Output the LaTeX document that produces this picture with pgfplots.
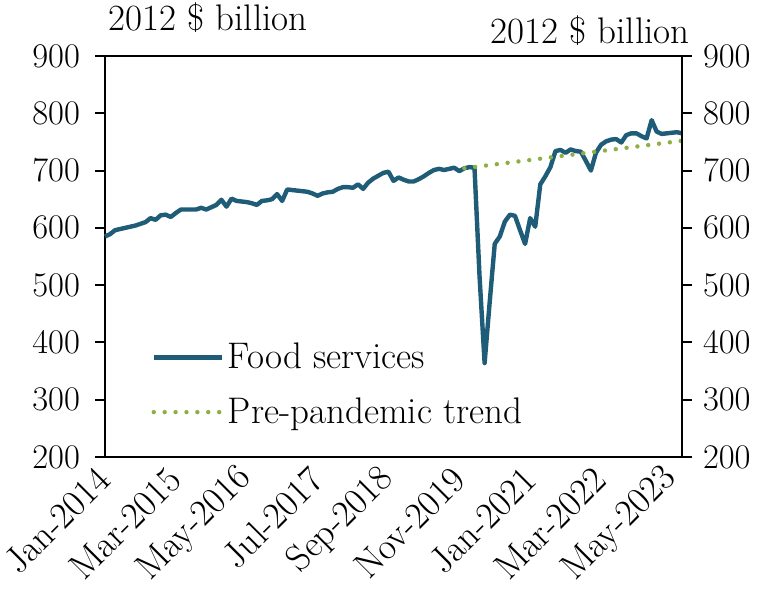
\documentclass[border=0pt]{standalone}
\usepackage{pgfplots}
\pgfplotsset{compat=1.18}
\definecolor{teal1}{HTML}{1F5C78}
\definecolor{green1}{HTML}{8CB043}
\newcommand{\fs}{\fontsize{18.5}{22}\selectfont}
\pgfplotstableread{
i v
0 585
1 589
2 596
3 598
4 600
5 602
6 604
7 607
8 610
9 617
10 614
11 622
12 623
13 619
14 626
15 632
16 632
17 632
18 632
19 635
20 632
21 636
22 640
23 649
24 637
25 651
26 647
27 646
28 645
29 643
30 640
31 647
32 648
33 650
34 659
35 647
36 667
37 666
38 665
39 664
40 663
41 660
42 656
43 660
44 662
45 663
46 668
47 671
48 671
49 670
50 676
51 668
52 679
53 686
54 691
55 696
56 698
57 682
58 688
59 684
60 681
61 681
62 685
63 690
64 696
65 701
66 703
67 701
68 703
69 705
70 699
71 704
72 706
73 705
74 515
75 364
76 470
77 572
78 585
79 611
80 623
81 621
82 596
83 572
84 617
85 602
86 676
87 690
88 706
89 734
90 736
91 731
92 737
93 734
94 733
95 717
96 700
97 731
98 745
99 751
100 754
101 755
102 749
103 762
104 765
105 765
106 760
107 756
108 788
109 768
110 764
111 765
112 766
113 767
114 765
}\food
\pgfplotstableread{
i v
71 704
114 752
}\trend
\begin{document}
\begin{tikzpicture}
\pgfplotsset{every axis/.append style={
  scale only axis, width=288.5pt, height=200.5pt,
  xmin=0, xmax=114, ymin=200, ymax=900,
  tick align=outside, major tick length=5pt,
  axis line style={line width=1pt},
  every tick/.style={line width=1pt,black},
  tick label style={font=\fs},
  ytick={200,300,...,900},
}}
\begin{axis}[name=ax, clip=false, ytick pos=left,
  xtick={0,14,...,112},
  xticklabels={Jan-2014,Mar-2015,May-2016,Jul-2017,Sep-2018,Nov-2019,Jan-2021,Mar-2022,May-2023},
  xtick style={draw=none},
  xticklabel style={rotate=45, anchor=east, yshift=-2pt, xshift=1pt},
  yticklabel style={xshift=-4pt},
  legend style={at={(rel axis cs:0.08,0.295)}, anchor=north west, draw=none, fill=none,
    font=\fs, row sep=9pt, inner sep=0pt, cells={anchor=west}},
  legend image code/.code={\draw[#1] (0pt,0pt) -- (34pt,0pt);},
]
\addplot[teal1, line width=2.2pt, line join=round] table[x=i,y=v]{\food};
\addlegendentry{Food services}
\addplot[green1, line width=2.2pt, line cap=round, dash pattern=on 0pt off 5.45pt] table[x=i,y=v]{\trend};
\addlegendentry{Pre-pandemic trend}
\coordinate (bl) at (rel axis cs:0,0);
\coordinate (tr) at (rel axis cs:1,1);
\node[anchor=base west, font=\fs, inner sep=0pt] at ([xshift=1.5pt,yshift=13pt]rel axis cs:0,1) {2012 \$ billion};
\node[anchor=base east, font=\fs, inner sep=0pt] at ([xshift=4pt,yshift=6.5pt]rel axis cs:1,1) {2012 \$ billion};
\end{axis}
\begin{axis}[axis x line=none, axis y line*=right, ytick pos=right, yticklabel style={xshift=2pt}]
\end{axis}
\pgfresetboundingbox
\path ([xshift=-52.5pt,yshift=-73.5pt]bl) rectangle ([xshift=43.5pt,yshift=28pt]tr);
\end{tikzpicture}
\end{document}
